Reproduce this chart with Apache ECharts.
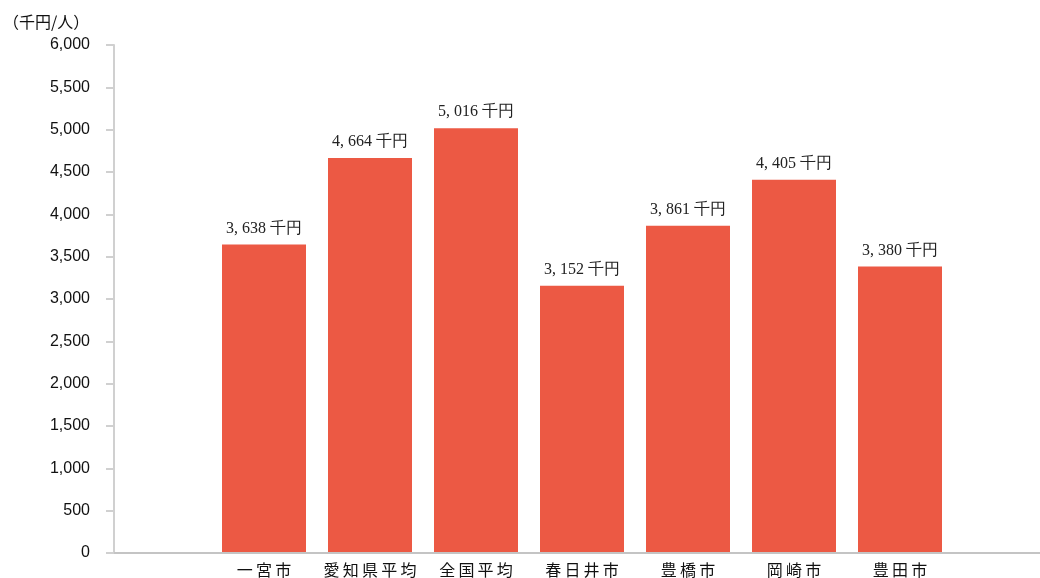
<!DOCTYPE html>
<html>
<head>
    <meta charset="utf-8">
    <title></title>
    <style>
        html, body { margin: 0; padding: 0; background: #fff; }
        #chart { width: 1040px; height: 578px; }
    </style>
</head>
<body>
    <div id="chart"></div>
    <script src="https://cdn.jsdelivr.net/npm/echarts@6/dist/echarts.min.js"></script>
    <script>
    // 一人当たり所得（千円/人）
    var cities = ['一宮市', '愛知県平均', '全国平均', '春日井市', '豊橋市', '岡崎市', '豊田市'];
    var values = [3638, 4664, 5016, 3152, 3861, 4405, 3380];
    var yTicks = [0, 500, 1000, 1500, 2000, 2500, 3000, 3500, 4000, 4500, 5000, 5500, 6000];

    var gridTop = 45, gridBottom = 25;
    var spaced = function (s) { return s.split('').join('\u2009'); };
    var fmt = function (v) { return String(v).replace(/\B(?=(\d{3})+(?!\d))/g, ','); };

    var myChart = echarts.init(document.getElementById('chart'));
    var option = {
        animation: false,
        title: {
            text: '（千円/人）',
            left: -2,
            top: 9,
            textStyle: { fontSize: 16, fontWeight: 'normal', color: '#111', fontFamily: 'Noto Sans CJK JP' }
        },
        grid: [
            { left: 114, right: 0, top: gridTop, bottom: gridBottom },
            { left: 211, width: 742, top: gridTop, bottom: gridBottom }
        ],
        xAxis: [{
            gridIndex: 0,
            type: 'value',
            min: 0, max: 1,
            axisLine: { show: true, lineStyle: { color: '#c4c4c4', width: 2 } },
            axisTick: { show: false },
            axisLabel: { show: false },
            splitLine: { show: false }
        }, {
            gridIndex: 1,
            type: 'category',
            data: cities,
            axisLine: { show: false },
            axisTick: { show: true, alignWithLabel: true, inside: true, length: 3, lineStyle: { color: '#d0d0d0' } },
            axisLabel: {
                interval: 0,
                margin: 10,
                fontSize: 16,
                color: '#111',
                fontFamily: 'Noto Sans CJK JP',
                formatter: spaced
            }
        }],
        yAxis: [{
            gridIndex: 0,
            type: 'value',
            min: yTicks[0],
            max: yTicks[yTicks.length - 1],
            interval: 500,
            axisLine: { show: true, lineStyle: { color: '#d0d0d0', width: 2 } },
            axisTick: { show: true, length: 8, lineStyle: { color: '#d0d0d0', width: 2 } },
            splitLine: { show: false },
            axisLabel: {
                margin: 24,
                fontSize: 16,
                color: '#111',
                fontFamily: 'Liberation Sans',
                formatter: function (v) { return fmt(v); }
            }
        }, {
            gridIndex: 1,
            type: 'value',
            min: yTicks[0],
            max: yTicks[yTicks.length - 1],
            show: false
        }],
        series: [{
            type: 'bar',
            xAxisIndex: 1,
            yAxisIndex: 1,
            data: values,
            barWidth: 84,
            itemStyle: { color: '#ec5944' },
            label: {
                show: true,
                position: 'top',
                distance: 8,
                fontSize: 16,
                color: '#222',
                fontFamily: 'Liberation Serif',
                formatter: function (p) { return fmt(p.value).replace(',', ', ') + ' 千円'; }
            }
        }]
    };
    myChart.setOption(option);
    addEventListener('resize', myChart.resize);
    </script>
</body>
</html>
